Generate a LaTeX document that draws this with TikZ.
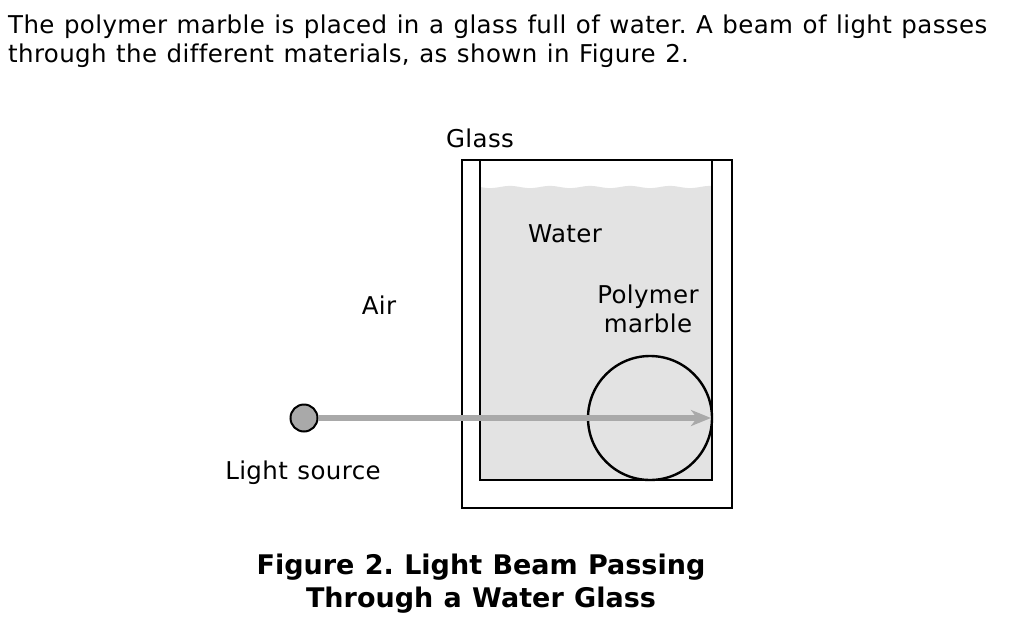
\documentclass[tikz,border=0pt]{standalone}
\usepackage{fontspec}
\setmainfont{DejaVu Sans}[Ligatures=NoCommon,LetterSpace=1.5,WordSpace=1.17]
\newfontfamily\captfont{DejaVu Sans}[Ligatures=NoCommon,WordSpace=1.1]
\usetikzlibrary{arrows.meta}
\definecolor{waterc}{HTML}{E3E3E3}
\definecolor{beamc}{HTML}{A9A9A9}
\frenchspacing
\begin{document}
\begin{tikzpicture}[x=1pt,y=-1pt,
  lbl/.style={inner sep=0pt,anchor=base,font=\fontsize{24.5}{30}\selectfont},
  para/.style={inner sep=0pt,anchor=base west,font=\fontsize{24.5}{30}\selectfont},
  capt/.style={inner sep=0pt,anchor=base,font=\captfont\fontsize{27}{33}\selectfont\bfseries},
  wall/.style={draw=black,line width=2pt},
  iwall/.style={draw=black,line width=2.6pt}]
\useasboundingbox (0,0) rectangle (1016,626);
% paragraph
\node[para] (p1) at (8,34) {The polymer marble is placed in a glass full of water. A beam of light passes};
\node[para] (p2) at (8,63) {through the different materials, as shown in Figure 2.};
% water
\fill[waterc] plot[domain=480:712,samples=80] (\x,{187+1.1*sin(\x*9)}) -- (712,480) -- (480,480) -- cycle;
% glass
\draw[wall] (462,160) rectangle (732,508);
\draw[iwall] (480,160) -- (480,480) -- (712,480) -- (712,160);
% marble
\node[draw=black,line width=2.4pt,circle,minimum size=124pt,inner sep=0pt] (marble) at (650,418) {};
% light source and beam
\node[draw=black,line width=2pt,fill=beamc,circle,minimum size=27pt,inner sep=0pt] (src) at (304,418) {};
\coordinate (hit) at (711,418);
\draw[beamc,line width=5.5pt,-{Stealth[length=20pt,width=16pt,inset=6pt]}] (src.east) -- (hit);
% labels
\node[lbl] (glass) at (480,147) {Glass};
\node[lbl] (water) at (565,242) {Water};
\node[lbl] (air) at (379,314) {Air};
\node[lbl] (poly) at (648,303) {Polymer};
\node[lbl] (marb) at (648,332) {marble};
\node[lbl] (ls) at (303,479) {Light source};
% caption
\node[capt] (c1) at (481,574) {Figure 2. Light Beam Passing};
\node[capt] (c2) at (481,607) {Through a Water Glass};
\end{tikzpicture}
\end{document}
